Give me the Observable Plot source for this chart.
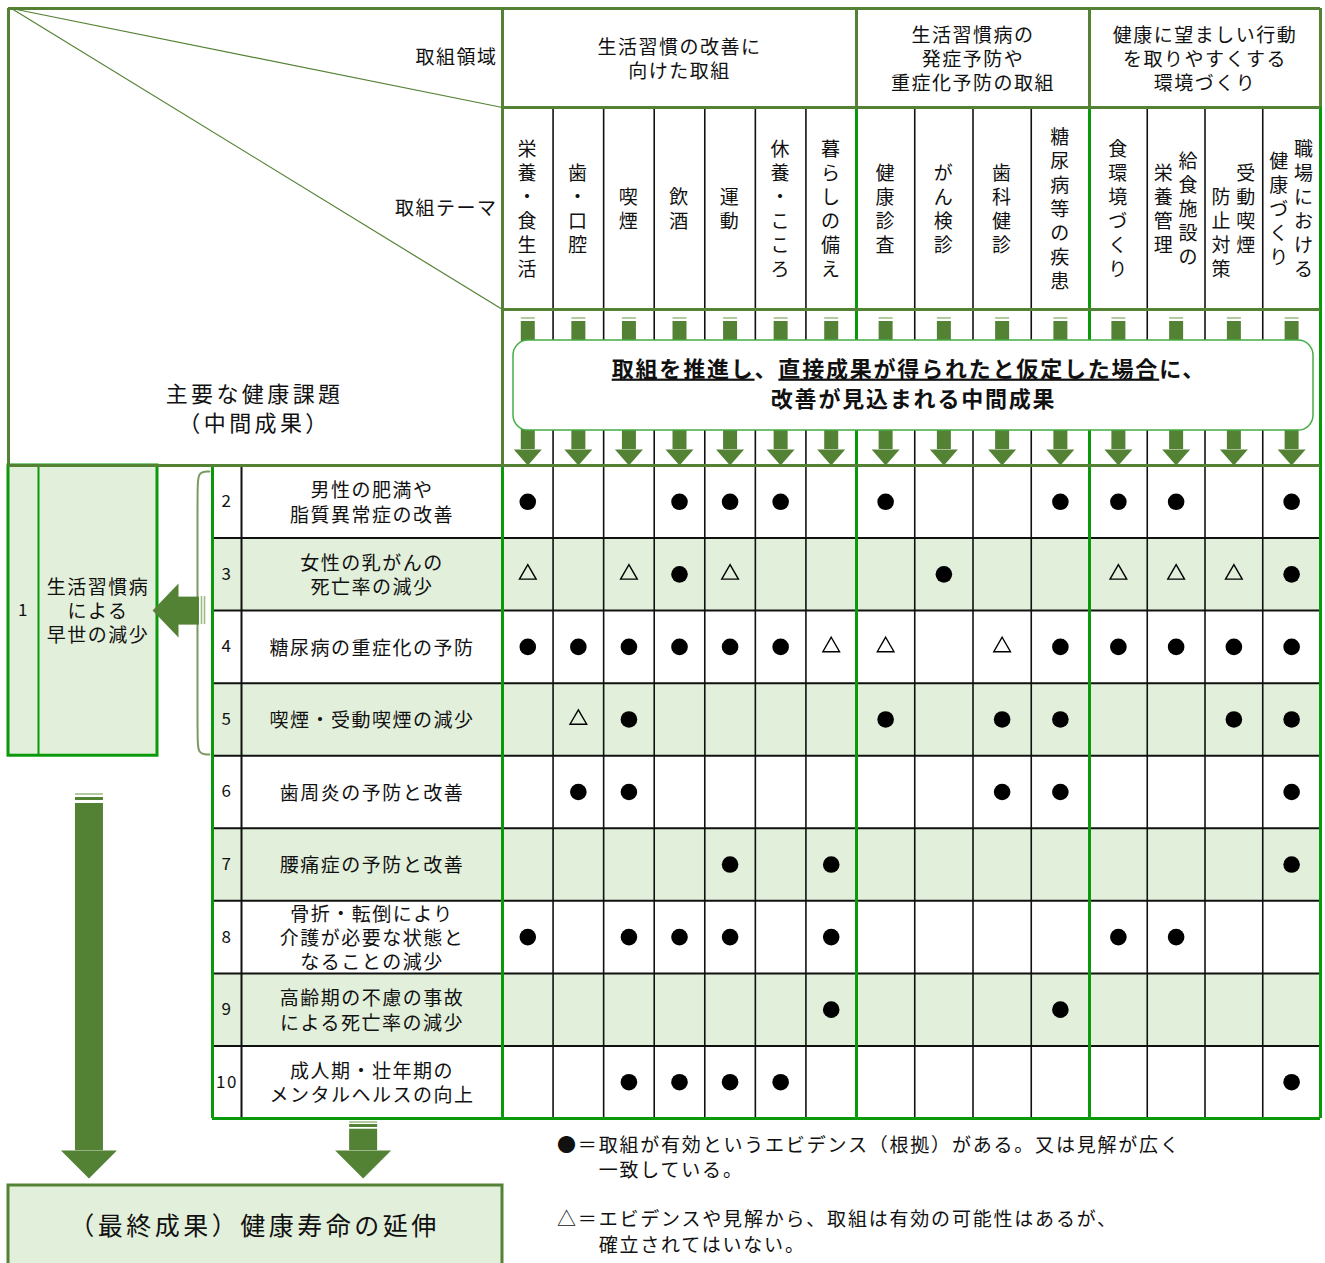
<!DOCTYPE html>
<html><head><meta charset="utf-8">
<script src="https://cdn.jsdelivr.net/npm/d3@7"></script>
<script src="https://cdn.jsdelivr.net/npm/@observablehq/plot@0.6"></script>
<style>
html,body{margin:0;padding:0;background:#fff;}
#chart svg text{letter-spacing:1.5px;}
</style>
</head><body><div id="chart"></div>
<script>
// ---------------- data ----------------
const domainLabels = ["生活習慣の改善に\n向けた取組", "生活習慣病の\n発症予防や\n重症化予防の取組", "健康に望ましい行動\nを取りやすくする\n環境づくり"];
const themes = ["栄養・食生活", "歯・口腔", "喫煙", "飲酒", "運動", "休養・こころ", "暮らしの備え",
  "健康診査", "がん検診", "歯科健診", "糖尿病等の疾患",
  "食環境づくり", "給食施設の\n栄養管理", "受動喫煙\n防止対策", "職場における\n健康づくり"];
const themeDomain = [0, 0, 0, 0, 0, 0, 0, 1, 1, 1, 1, 2, 2, 2, 2];
const issueNumbers = [2, 3, 4, 5, 6, 7, 8, 9, 10];
const issues = ["男性の肥満や\n脂質異常症の改善", "女性の乳がんの\n死亡率の減少", "糖尿病の重症化の予防", "喫煙・受動喫煙の減少",
  "歯周炎の予防と改善", "腰痛症の予防と改善", "骨折・転倒により\n介護が必要な状態と\nなることの減少",
  "高齢期の不慮の事故\nによる死亡率の減少", "成人期・壮年期の\nメンタルヘルスの向上"];
// one string per issue, one character per theme: ● evidence, △ possible, - none
const evidence = [
  "●--●●●-●--●●●-●",
  "△-△●△---●--△△△●",
  "●●●●●●△△-△●●●●●",
  "-△●----●-●●--●●",
  "-●●------●●---●",
  "----●-●-------●",
  "●-●●●-●----●●--",
  "------●---●----",
  "--●●●●--------●"
];
const headerDomainTitle = "取組領域";
const headerThemeTitle = "取組テーマ";
const headerIssueTitle = "主要な健康課題\n（中間成果）";
const parentNumber = "1";
const parentIssue = "生活習慣病\nによる\n早世の減少";
const boxLine1 = [["取組を推進し", true], ["、", false], ["直接成果が得られたと仮定した場合", true], ["に、", false]];
const boxLine2 = "改善が見込まれる中間成果";
const finalOutcome = "（最終成果）健康寿命の延伸";
const legendLines = ["●＝取組が有効というエビデンス（根拠）がある。又は見解が広く\n　　一致している。",
  "△＝エビデンスや見解から、取組は有効の可能性はあるが、\n　　確立されてはいない。"];

// ---------------- layout ----------------
const OLIVE = "#548235", GREEN = "#0a990a", PALE = "#e2efda", INK = "#111", LIGHT = "#b3cc9f";
const nT = themes.length, nI = issues.length;
const groupEdges = [0];
themeDomain.forEach((g, i) => { if (i > 0 && g !== themeDomain[i - 1]) groupEdges.push(i); });
groupEdges.push(nT);
const groupCenters = domainLabels.map((_, g) => (groupEdges[g] + groupEdges[g + 1]) / 2);
const innerCols = d3.range(1, nT).filter(i => !groupEdges.includes(i));

// grid units -> page: each theme column / issue row is one unit; the left panel and header use their own units
const xUnits = d3.scaleLinear().domain([-5, -4, -3, -2, -1, 0, 7, 11, 15]).range([8, 38, 157, 212, 241, 502, 856, 1089, 1320]);
const yUnits = d3.scaleLinear().domain([-3, -2, -1, 0, 9, 10, 11]).range([8, 107, 309, 465, 1118, 1185, 1263]);

// vertical theme labels: one character per line, multi-column names read right to left
const themeCols = themes.flatMap((name, i) => {
  const cols = name.split("\n");
  return cols.map((c, k) => ({
    text: [...c].join("\n"),
    x: i + 0.5 + (cols.length === 1 ? 0 : (k === 0 ? 0.22 : -0.21)),
    y: -1.5 + (i === 13 && k === 1 ? 0.119 : 0)
  }));
});
const cells = evidence.flatMap((row, r) => [...row].map((s, c) => ({r, c, s})).filter(d => d.s !== "-"));
const colCenters = themes.map((_, i) => i + 0.5);

const headSymbol = ratio => ({
  draw(context, size) {
    const r = Math.sqrt(size / Math.PI);
    context.moveTo(-r, 0);
    context.lineTo(r, 0);
    context.lineTo(0, r * ratio);
    context.closePath();
  }
});
const bracket = [
  {x: -2.055, y: 0.083}, {x: -2.273, y: 0.083}, {x: -2.273, y: 0.35},
  {x: -2.273, y: 3.72}, {x: -2.273, y: 3.983}, {x: -2.055, y: 3.983}
];

const chart = Plot.plot({
  width: 1325, height: 1263,
  marginTop: 0, marginRight: 0, marginBottom: 0, marginLeft: 0,
  x: {transform: xUnits, domain: [0, 1325], range: [0, 1325], axis: null},
  y: {transform: yUnits, domain: [0, 1263], range: [0, 1263], axis: null},
  style: {fontFamily: "'Noto Sans CJK JP', 'Noto Sans', sans-serif", fontSize: "19px", background: "white", color: INK},
  marks: [
    // fills
    Plot.rect(d3.range(nI).filter(i => i % 2 === 1), {x1: -2, x2: 15, y1: i => i, y2: i => i + 1, fill: PALE}),
    Plot.rect([0], {x1: -5, x2: -3, y1: 0, y2: 4, fill: PALE, stroke: GREEN, strokeWidth: 3}),
    Plot.rect([0], {x1: -5, x2: 0, y1: 10, y2: 11.3, fill: PALE, stroke: OLIVE, strokeWidth: 3}),
    // black grid
    Plot.ruleY(d3.range(1, nI), {y: d => d, x1: -2, x2: 15, stroke: INK, strokeWidth: 2}),
    Plot.ruleX(innerCols, {x: d => d, y1: -2, y2: 9, stroke: INK, strokeWidth: 1.6}),
    Plot.ruleX([-1], {x: d => d, y1: 0, y2: 9, stroke: INK, strokeWidth: 2}),
    // bright green borders
    Plot.ruleX(groupEdges.slice(1), {x: d => d, y1: -2, y2: 9, stroke: GREEN, strokeWidth: 3}),
    Plot.ruleX([0, -2], {x: d => d, y1: 0, y2: 9, stroke: GREEN, strokeWidth: 3}),
    Plot.ruleY([9], {y: d => d, x1: -2, x2: 15, stroke: GREEN, strokeWidth: 3}),
    Plot.ruleX([-4], {x: d => d, y1: 0, y2: 4, stroke: GREEN, strokeWidth: 2}),
    // olive frame
    Plot.ruleY([-3, 0], {y: d => d, x1: -5, x2: 15, stroke: OLIVE, strokeWidth: 3}),
    Plot.ruleY([-2, -1], {y: d => d, x1: 0, x2: 15, stroke: OLIVE, strokeWidth: 3}),
    Plot.ruleX([-5, 0], {x: d => d, y1: -3, y2: 0, stroke: OLIVE, strokeWidth: 3}),
    Plot.ruleX(groupEdges.slice(1), {x: d => d, y1: -3, y2: -2, stroke: OLIVE, strokeWidth: 3}),
    Plot.link([-2, -1], {x1: -4.9, y1: -3, x2: 0, y2: d => d, stroke: OLIVE, strokeWidth: 1.2}),
    // bracket
    Plot.line(bracket, {x: "x", y: "y", curve: "basis", stroke: "#7b9a62", strokeWidth: 2}),
    // column arrows
    Plot.ruleX(colCenters, {x: d => d, y1: -0.949, y2: -0.936, stroke: LIGHT, strokeWidth: 14}),
    Plot.ruleX(colCenters, {x: d => d, y1: -0.923, y2: -0.103, stroke: OLIVE, strokeWidth: 14}),
    Plot.dot(colCenters, {x: d => d, y: -0.103, r: 14, symbol: headSymbol(1.14), fill: OLIVE, stroke: "none"}),
    // left arrow
    Plot.ruleY([2], {y: d => d, x1: -2.618, x2: -2.236, stroke: OLIVE, strokeWidth: 28}),
    Plot.ruleX([-2.2, -2.145], {x: d => d, y1: 1.807, y2: 2.193, stroke: "#9cbc85", strokeWidth: 1.6}),
    Plot.dot([2], {x: -2.618, y: d => d, r: 27, symbol: headSymbol(0.96), rotate: 90, fill: OLIVE, stroke: "none"}),
    // big down arrows
    Plot.ruleX([-3.576], {x: d => d, y1: 4.521, y2: 4.548, stroke: LIGHT, strokeWidth: 28}),
    Plot.ruleX([-3.576], {x: d => d, y1: 4.576, y2: 4.617, stroke: OLIVE, strokeWidth: 28}),
    Plot.ruleX([-3.576], {x: d => d, y1: 4.658, y2: 9.48, stroke: OLIVE, strokeWidth: 28}),
    Plot.ruleX([-0.534], {x: d => d, y1: 9.045, y2: 9.075, stroke: LIGHT, strokeWidth: 28}),
    Plot.ruleX([-0.534], {x: d => d, y1: 9.09, y2: 9.134, stroke: OLIVE, strokeWidth: 28}),
    Plot.ruleX([-0.534], {x: d => d, y1: 9.16, y2: 9.48, stroke: OLIVE, strokeWidth: 28}),
    Plot.dot([-3.576, -0.534], {x: d => d, y: 9.478, r: 28, symbol: headSymbol(1.0), fill: OLIVE, stroke: "none"}),
    // rounded message box
    Plot.rect([0], {x1: 0.2175, x2: 14.879, y1: -0.801, y2: -0.224, rx: 15, ry: 15, fill: "white", stroke: "#44ad44", strokeWidth: 1.5}),
    // header texts
    Plot.text([headerDomainTitle], {x: 0, y: -2.5, dx: -5, textAnchor: "end", fontSize: 19, fill: INK}),
    Plot.text([headerThemeTitle], {x: 0, y: -1.5, dx: -5, textAnchor: "end", fontSize: 19, fill: INK}),
    Plot.text([headerIssueTitle], {x: -0.95, y: -0.375, fontSize: 22, lineHeight: 1.32, fill: INK}),
    Plot.text(domainLabels, {x: (d, i) => groupCenters[i], y: -2.5, fontSize: 19, lineHeight: 1.26, fill: INK}),
    Plot.text(themeCols, {x: "x", y: "y", text: "text", fontSize: 19, lineHeight: 1.26, fill: INK}),
    // issue rows
    Plot.text(issueNumbers, {x: -1.5, y: (d, i) => i + 0.5, text: d => String(d), fontSize: 17, fill: INK}),
    Plot.text(issues, {x: -0.5, y: (d, i) => i + 0.5, fontSize: 19, lineHeight: 1.28, fill: INK}),
    Plot.text([parentNumber], {x: -4.5, y: 2, fontSize: 17, fill: INK}),
    Plot.text([parentIssue], {x: -3.5, y: 2, fontSize: 19, lineHeight: 1.26, fill: INK}),
    // evidence marks
    Plot.dot(cells.filter(d => d.s === "●"), {x: d => d.c + 0.5, y: d => d.r + 0.5, r: 8.3, fill: "black", stroke: "none"}),
    Plot.dot(cells.filter(d => d.s === "△"), {x: d => d.c + 0.5, y: d => d.r + 0.5, r: 6.2, symbol: "triangle", fill: "none", stroke: "black", strokeWidth: 1.4}),
    // message box text
    Plot.text([boxLine1.map(p => p[0]).join("")], {x: 7.9, y: -0.615, fontSize: 22, fontWeight: "bold", fill: INK}),
    Plot.text([boxLine2], {x: 7.98, y: -0.417, fontSize: 22, fontWeight: "bold", fill: INK}),
    // final outcome & legend
    Plot.text([finalOutcome], {x: -0.95, y: 10.526, fontSize: 25, fill: INK}),
    Plot.text(legendLines, {x: 1, dx: 4, y: (d, i) => [9.56, 10.583][i], textAnchor: "start", fontSize: 19, lineHeight: 1.32, fill: INK})
  ]
});
document.getElementById("chart").appendChild(chart);

// text post-processing: spacing and underline
const svg = d3.select(chart);
const line1 = boxLine1.map(p => p[0]).join("");
svg.selectAll("text").each(function () {
  const t = this.textContent;
  const el = d3.select(this);
  if (t === line1) {
    el.style("letter-spacing", "1.8px").text(null);
    boxLine1.forEach(([s, u]) => el.append("tspan").text(s).style("text-decoration", u ? "underline" : null));
  } else if (t === boxLine2) el.style("letter-spacing", "1.8px");
  else if (t === finalOutcome) el.style("letter-spacing", "3.5px");
  else if (t.startsWith("主要な")) el.style("letter-spacing", "3.4px");
  else if (t.startsWith("●＝") || t.startsWith("△＝")) el.style("letter-spacing", "1.8px");
});
</script>
</body></html>
